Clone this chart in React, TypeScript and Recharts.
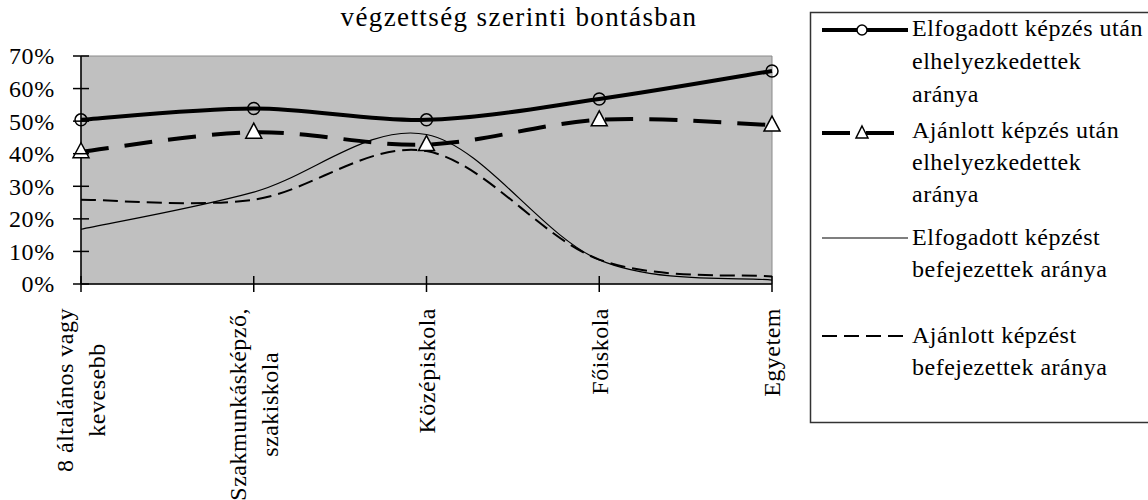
import React, { useLayoutEffect, useRef, useState } from "react";
import { LineChart, Line, XAxis, YAxis, CartesianGrid, ReferenceArea } from "recharts";

const categories = [
  "8 általános vagy kevesebb",
  "Szakmunkásképző, szakiskola",
  "Középiskola",
  "Főiskola",
  "Egyetem",
];
const categoryLines = [
  ["8 általános vagy", "kevesebb"],
  ["Szakmunkásképző,", "szakiskola"],
  ["Középiskola"],
  ["Főiskola"],
  ["Egyetem"],
];
const elfogadottElhelyezkedett = [50.4, 53.9, 50.4, 56.8, 65.4];
const ajanlottElhelyezkedett = [40.6, 46.6, 42.8, 50.4, 48.8];
const elfogadottBefejezett = [16.8, 28.2, 45.9, 7.4, 1.2];
const ajanlottBefejezett = [25.9, 25.9, 40.8, 7.5, 2.3];
const yTicks = [0, 10, 20, 30, 40, 50, 60, 70];
const title = "végzettség szerinti bontásban";
const legendLines = [
  ["Elfogadott képzés után", "elhelyezkedettek", "aránya"],
  ["Ajánlott képzés után", "elhelyezkedettek", "aránya"],
  ["Elfogadott képzést", "befejezettek aránya"],
  ["Ajánlott képzést", "befejezettek aránya"],
];

const data = categories.map((cat, i) => ({
  cat,
  s1: elfogadottElhelyezkedett[i],
  s2: ajanlottElhelyezkedett[i],
  s3: elfogadottBefejezett[i],
  s4: ajanlottBefejezett[i],
}));

const FONT = "'Liberation Serif', 'Times New Roman', serif";

// Excel-style smoothing (Catmull-Rom through the points)
const excelSmooth = (context: any) => {
  let pts: [number, number][] = [];
  return {
    areaStart() {},
    areaEnd() {},
    lineStart() {
      pts = [];
    },
    lineEnd() {
      const n = pts.length;
      if (!n) return;
      context.moveTo(pts[0][0], pts[0][1]);
      for (let i = 0; i < n - 1; i++) {
        const p0 = pts[i - 1] || pts[i];
        const p1 = pts[i];
        const p2 = pts[i + 1];
        const p3 = pts[i + 2] || p2;
        context.bezierCurveTo(
          p1[0] + (p2[0] - p0[0]) / 6,
          p1[1] + (p2[1] - p0[1]) / 6,
          p2[0] - (p3[0] - p1[0]) / 6,
          p2[1] - (p3[1] - p1[1]) / 6,
          p2[0],
          p2[1]
        );
      }
    },
    point(x: number, y: number) {
      pts.push([+x, +y]);
    },
  };
};

function YTick({ x, y, payload }: any) {
  return (
    <g>
      <line x1={x} x2={x + 16} y1={y} y2={y} stroke="#000" strokeWidth={1.5} />
      <text x={x - 18} y={y} dy="0.35em" textAnchor="end" fontSize={24} fontFamily={FONT} letterSpacing={0.7} fill="#000">
        {payload.value}%
      </text>
    </g>
  );
}

function XTick({ x, y, payload }: any) {
  const idx = categories.indexOf(payload.value);
  const lines = categoryLines[idx] || [payload.value];
  const refs = useRef<(SVGTextElement | null)[]>([]);
  const [len, setLen] = useState(Math.max(...lines.map((l) => l.length)) * 10.5);
  useLayoutEffect(() => {
    const m = Math.max(...refs.current.map((t) => (t ? t.getComputedTextLength() : 0)));
    if (m && Math.abs(m - len) > 0.5) setLen(m);
  });
  const cy = y + 16 + len / 2;
  return (
    <g>
      <line x1={x} x2={x} y1={y - 16} y2={y} stroke="#000" strokeWidth={1.5} />
      {lines.map((l, i) => {
        const lx = x + (i - (lines.length - 1) / 2) * 32;
        return (
          <text
            key={i}
            ref={(el) => {
              refs.current[i] = el;
            }}
            x={lx}
            y={cy}
            dy="0.35em"
            transform={`rotate(-90 ${lx} ${cy})`}
            textAnchor="middle"
            fontSize={24}
            fontFamily={FONT}
            letterSpacing={0.5}
            fill="#000"
          >
            {l}
          </text>
        );
      })}
    </g>
  );
}

function Triangle({ cx, cy }: any) {
  if (cx == null || cy == null) return null;
  return (
    <path
      d={`M${cx},${cy - 9} L${cx + 8},${cy + 6} L${cx - 8},${cy + 6} Z`}
      fill="#fff"
      stroke="#000"
      strokeWidth={1.5}
    />
  );
}

function LegendBox() {
  const samples = [
    { y: 30, texts: [36, 69, 102] },
    { y: 133, texts: [138, 170, 202] },
    { y: 238, texts: [245, 277] },
    { y: 336, texts: [343, 375] },
  ];
  return (
    <svg width={1148} height={500} style={{ position: "absolute", left: 0, top: 0, pointerEvents: "none" }}>
      <rect x={810.5} y={12.5} width={420} height={410} fill="#fff" stroke="#333" strokeWidth={1.5} />
      {/* 1: thick solid with circle */}
      <line x1={822} x2={908} y1={samples[0].y} y2={samples[0].y} stroke="#000" strokeWidth={4} />
      <circle cx={862} cy={samples[0].y} r={5} fill="#fff" stroke="#000" strokeWidth={1.5} />
      {/* 2: thick dashed with triangle */}
      <line x1={822} x2={908} y1={samples[1].y} y2={samples[1].y} stroke="#000" strokeWidth={4} strokeDasharray="28 16" />
      <path d={`M862,${samples[1].y - 7} L868,${samples[1].y + 5} L856,${samples[1].y + 5} Z`} fill="#fff" stroke="#000" strokeWidth={1.5} />
      {/* 3: thin solid */}
      <line x1={822} x2={908} y1={samples[2].y} y2={samples[2].y} stroke="#000" strokeWidth={1.2} />
      {/* 4: thin dashed */}
      <line x1={822} x2={908} y1={samples[3].y} y2={samples[3].y} stroke="#000" strokeWidth={2} strokeDasharray="15 7" />
      {samples.map((s, i) =>
        legendLines[i].map((t, j) => (
          <text key={`${i}-${j}`} x={912} y={s.texts[j]} fontSize={24} fontFamily={FONT} letterSpacing={0.5} fill="#000">
            {t}
          </text>
        ))
      )}
    </svg>
  );
}

export default function App() {
  return (
    <div style={{ position: "absolute", left: 0, top: 0, width: 1148, height: 500, overflow: "hidden", background: "#fff" }}>
      <LineChart width={1148} height={500} data={data} margin={{ top: 56, right: 376, left: 0, bottom: 0 }}>
        <CartesianGrid horizontal={false} vertical={false} fill="#c0c0c0" />
        <ReferenceArea x1={categories[0]} x2={categories[4]} y1={0} y2={70} fill="#c0c0c0" fillOpacity={0} stroke="#8a8a8a" strokeWidth={1} />
        <XAxis
          dataKey="cat"
          height={216}
          interval={0}
          tickSize={8}
          tickMargin={0}
          tickLine={false}
          axisLine={{ stroke: "#000", strokeWidth: 1.5 }}
          tick={<XTick />}
        />
        <YAxis
          width={81}
          domain={[0, 70]}
          ticks={yTicks}
          tickSize={8}
          tickMargin={0}
          tickLine={false}
          axisLine={{ stroke: "#000", strokeWidth: 1.5 }}
          tick={<YTick />}
        />
        <Line dataKey="s3" type={excelSmooth as any} stroke="#000" strokeWidth={1.2} dot={false} activeDot={false} isAnimationActive={false} />
        <Line dataKey="s4" type={excelSmooth as any} stroke="#000" strokeWidth={2} strokeDasharray="15 7" dot={false} activeDot={false} isAnimationActive={false} />
        <Line dataKey="s2" type={excelSmooth as any} stroke="#000" strokeWidth={4} strokeDasharray="28 16" dot={<Triangle />} activeDot={false} isAnimationActive={false} />
        <Line
          dataKey="s1"
          type={excelSmooth as any}
          stroke="#000"
          strokeWidth={4}
          dot={{ r: 6, fill: "none", stroke: "#000", strokeWidth: 1.5 }}
          activeDot={false}
          isAnimationActive={false}
        />
      </LineChart>
      <svg width={1148} height={40} style={{ position: "absolute", left: 0, top: 0 }}>
        <text x={519} y={26} textAnchor="middle" fontSize={27} fontFamily={FONT} letterSpacing={1.4} fill="#000">
          {title}
        </text>
      </svg>
      <LegendBox />
    </div>
  );
}
